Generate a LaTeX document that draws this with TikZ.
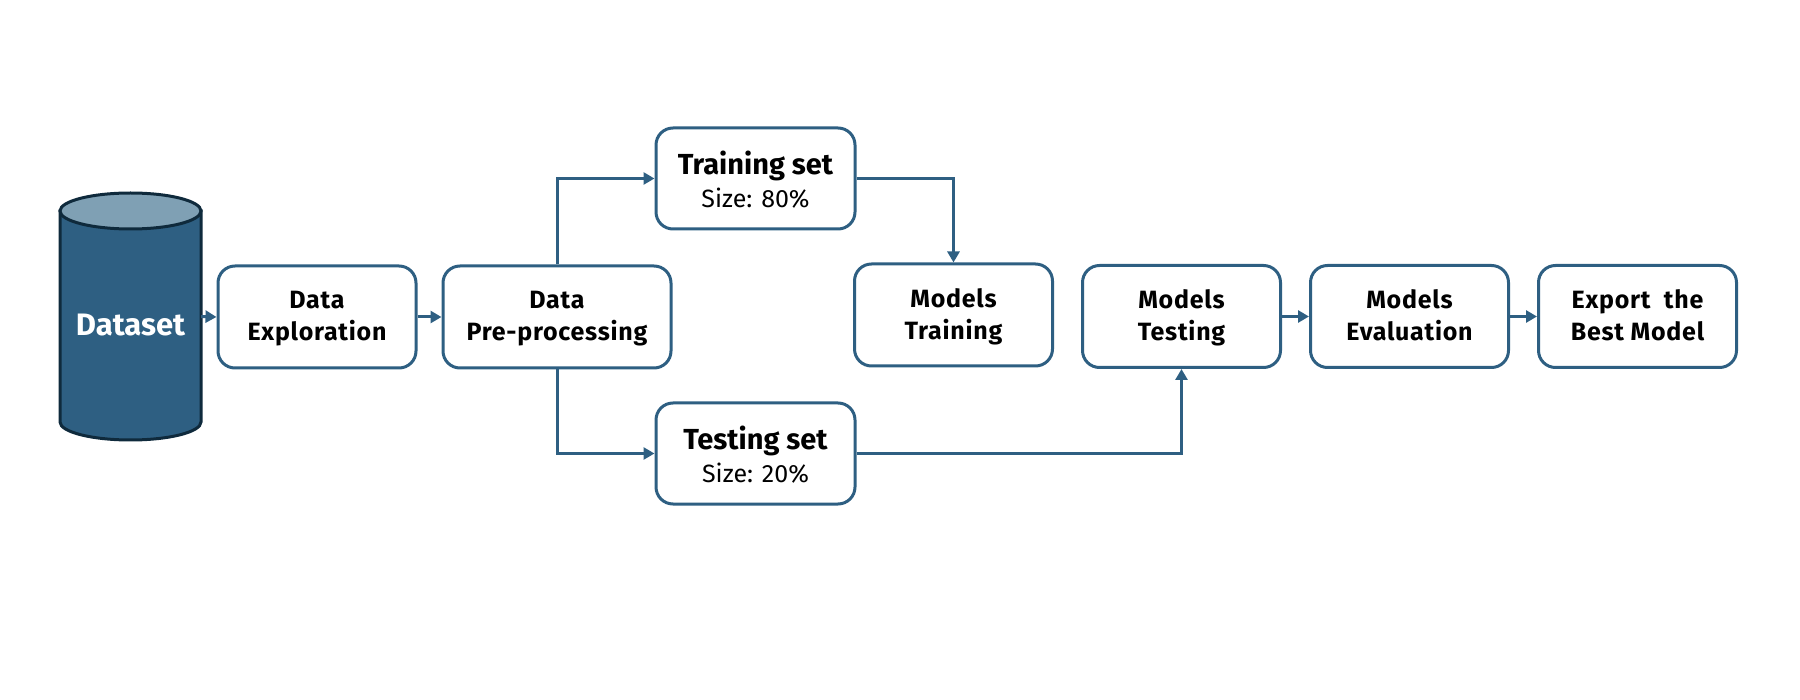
\documentclass[tikz,border=0pt]{standalone}
\usepackage{fontspec}
\setmainfont{Fira Sans}
\usetikzlibrary{arrows.meta}
\definecolor{flow}{HTML}{2E5F82}
\definecolor{cyltop}{HTML}{7FA0B4}
\definecolor{cyledge}{HTML}{0F2A3C}
\newcommand{\smalltxt}{\fontsize{25}{32}\selectfont\mdseries}
\newcommand{\headtxt}{\fontsize{25}{32}\selectfont\bfseries\addfontfeature{LetterSpace=3}}
\newcommand{\settxt}{\fontsize{29}{32}\selectfont\bfseries}
\newcommand{\lhtop}{\rule{0pt}{27pt}}
\newcommand{\lhtopa}{\rule{0pt}{25pt}}
\newcommand{\lhtopb}{\rule{0pt}{28pt}}
\newcommand{\lhbot}{\rule[-10pt]{0pt}{0pt}}
\tikzset{
  x=1pt,y=-1pt,
  flowbox/.style={draw=flow,line width=3pt,rounded corners=17pt,fill=white,align=center,inner sep=0pt,text=black,font=\headtxt},
  stagebox/.style={flowbox,minimum width=198pt,minimum height=102pt},
  setbox/.style={flowbox,minimum width=199pt,minimum height=101pt,font=\settxt},
  link/.style={draw=flow,line width=3pt,-{Triangle[length=11pt,width=12pt]}},
}
\begin{document}
\begin{tikzpicture}
\useasboundingbox (0,0) rectangle (1800,700);
% cylinder
\draw[cyledge,line width=3pt,fill=flow] (60,211) -- (60,422) arc[start angle=180,end angle=360,x radius=70.5pt,y radius=18pt] -- (201,211) -- cycle;
\draw[cyledge,line width=3pt,fill=cyltop] (130.5,211) ellipse[x radius=70.5pt,y radius=18pt];
\node[minimum width=141pt,minimum height=247pt,inner sep=0pt] (dataset) at (130.5,316.5) {};
\node[text=white,font=\fontsize{31}{31}\selectfont\bfseries,inner sep=0pt] (dslabel) at (130.5,325) {Dataset};
% boxes
\node[stagebox] (explore) at (317,317) {\lhtopa Data\\\lhbot Exploration};
\node[stagebox,minimum width=228pt] (prep) at (557,317) {\lhtopa Data\\\lhbot Pre-processing};
\node[setbox] (train) at (755.5,178.5) {\rule{0pt}{34pt}Training set\\[1pt]{\smalltxt\rule[-9pt]{0pt}{0pt}Size: 80\%}};
\node[setbox] (test) at (755.5,453.5) {\rule{0pt}{34pt}Testing set\\[1pt]{\smalltxt\rule[-9pt]{0pt}{0pt}Size: 20\%}};
\node[stagebox] (mtrain) at (953.5,315) {\lhtopb Models\\\lhbot Training};
\node[stagebox] (mtest) at (1181.5,316.5) {\lhtop Models\\\lhbot Testing};
\node[stagebox] (meval) at (1409.5,316.5) {\lhtop Models\\\lhbot Evaluation};
\node[stagebox] (export) at (1637.5,316.5) {\lhtop Export\ \ the\\\lhbot Best Model};
% connectors
\draw[link] (dataset.east) -- (explore.west);
\draw[link] (explore.east) -- (prep.west);
\draw[link] (prep.north) |- (train.west);
\draw[link] (prep.south) |- (test.west);
\draw[link] (train.east) -| (mtrain.north);
\draw[link] (test.east) -| (mtest.south);
\draw[link] (mtest.east) -- (meval.west);
\draw[link] (meval.east) -- (export.west);
\end{tikzpicture}
\end{document}
